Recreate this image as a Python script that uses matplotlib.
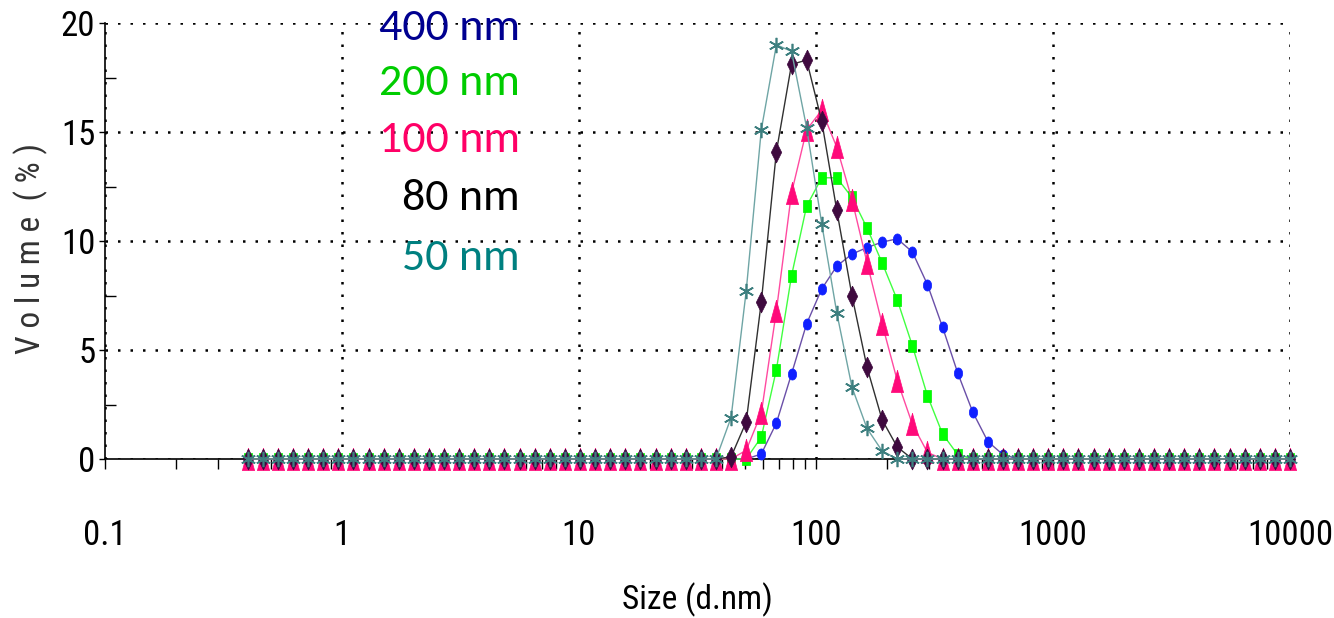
import numpy as np
import matplotlib
matplotlib.use("Agg")
import matplotlib.pyplot as plt
from matplotlib import font_manager
from matplotlib.ticker import LogLocator, FixedLocator, NullFormatter, FixedFormatter

# ---------------- data ----------------
sizes_nm = [0.4, 0.4632, 0.5365, 0.6213, 0.7195, 0.8332, 0.9649, 1.117, 1.294, 1.499,
            1.736, 2.010, 2.328, 2.696, 3.122, 3.615, 4.187, 4.849, 5.615, 6.503,
            7.531, 8.721, 10.10, 11.70, 13.54, 15.69, 18.17, 21.04, 24.36, 28.21,
            32.67, 37.84, 43.82, 50.75, 58.77, 68.06, 78.82, 91.28, 105.7, 122.4,
            141.8, 164.2, 190.1, 220.2, 255.0, 295.3, 342.0, 396.1, 458.7, 531.2,
            615.1, 712.4, 825.0, 955.4, 1106, 1281, 1484, 1718, 1990, 2305,
            2669, 3091, 3580, 4145, 4801, 5560, 6439, 7456, 8635, 10000]

vol_400 = [0] * 34 + [0.23, 1.65, 3.9, 6.2, 7.8, 8.85, 9.4, 9.7, 9.95, 10.1,
                      9.5, 8.0, 6.05, 3.95, 2.15, 0.8, 0.2] + [0] * 19
vol_200 = [0] * 34 + [1.0, 4.1, 8.4, 11.6, 12.9, 12.9, 12.0, 10.6, 9.0, 7.3,
                      5.2, 2.9, 1.15, 0.2] + [0] * 22
vol_100 = [0] * 33 + [0.4, 2.1, 6.8, 12.2, 15.1, 16.0, 14.3, 11.9, 9.0, 6.2,
                      3.6, 1.6, 0.3] + [0] * 24
vol_80 = [0] * 32 + [0.1, 1.7, 7.2, 14.1, 18.1, 18.3, 15.5, 11.4, 7.5, 4.2,
                     1.8, 0.55] + [0] * 26
vol_50 = [0] * 32 + [1.9, 7.7, 15.1, 19.0, 18.7, 15.2, 10.8, 6.7, 3.3, 1.4,
                     0.37] + [0] * 27

legend_labels = ["400 nm", "200 nm", "100 nm", "80 nm", "50 nm"]
x_tick_vals = [0.1, 1, 10, 100, 1000, 10000]
x_tick_labels = ["0.1", "1", "10", "100", "1000", "10000"]
y_tick_vals = [0, 5, 10, 15, 20]

# ---------------- fonts ----------------
available = {f.name for f in font_manager.fontManager.ttflist}
def pick(cands):
    for c in cands:
        if c in available:
            return c
    return "DejaVu Sans"

narrow = pick(["Liberation Sans Narrow", "Arial Narrow", "Roboto Condensed", "DejaVu Sans Condensed", "Liberation Sans"])
legend_font = pick(["Carlito", "Lato", "Open Sans", "DejaVu Sans"])

# ---------------- figure ----------------
fig = plt.figure(figsize=(13.34, 6.18), dpi=100)
ax = fig.add_axes([105 / 1334, 1 - 459 / 618, (1290 - 105) / 1334, (459 - 23) / 618])
ax.set_xscale("log")
ax.set_xlim(0.1, 10000)
ax.set_ylim(0, 20)

# marker shapes
t = np.linspace(0, 2 * np.pi, 40)
ellipse = list(zip(0.75 * np.cos(t), np.sin(t)))
tall_rect = [(-0.6, -1), (0.6, -1), (0.6, 1), (-0.6, 1), (-0.6, -1)]
tall_tri = [(0, 1), (0.55, -1), (-0.55, -1), (0, 1)]
thin_diamond = [(0, 1), (0.5, 0), (0, -1), (-0.5, 0), (0, 1)]

series = [
    (vol_400, "#6a4fa8", dict(marker=ellipse, ms=8, mfc="#1020ff", mec="#1020ff", mew=0.5)),
    (vol_200, "#40ff40", dict(marker=tall_rect, ms=8.5, mfc="#00ff00", mec="#00ee00", mew=0.5)),
    (vol_100, "#ff4aa0", dict(marker=tall_tri, ms=16, mfc="#ff0a7a", mec="#ff0a7a", mew=0.5)),
    (vol_80, "#303030", dict(marker=thin_diamond, ms=15, mfc="#3f0a3f", mec="#3f0a3f", mew=0.5)),
    (vol_50, "#6fa5a5", dict(marker=(6, 2, 0), ms=11, mfc="#3d7f7f", mec="#3d7f7f", mew=1.2)),
]
for vals, lc, mk in series:
    ax.plot(sizes_nm, vals, color=lc, lw=1.0, clip_on=False, zorder=3, **mk)

# grid: dotted
ax.grid(True, which="major", axis="both", color="black", linestyle=(0, (1, 4)), lw=1.8)
ax.set_axisbelow(True)
for s in ["top", "right"]:
    ax.spines[s].set_visible(False)
for s in ["left", "bottom"]:
    ax.spines[s].set_linewidth(1.2)
    ax.spines[s].set_zorder(2)

ax.xaxis.set_major_locator(FixedLocator(x_tick_vals))
ax.xaxis.set_major_formatter(FixedFormatter(x_tick_labels))
ax.xaxis.set_minor_locator(LogLocator(base=10, subs=np.arange(2, 10)))
ax.xaxis.set_minor_formatter(NullFormatter())
ax.yaxis.set_major_locator(FixedLocator(y_tick_vals))
ax.yaxis.set_minor_locator(FixedLocator([2.5, 7.5, 12.5, 17.5]))

ax.tick_params(axis="x", which="both", direction="out", length=7, width=1, pad=36,
               labelsize=25)
ax.tick_params(axis="y", which="major", direction="out", length=4, width=1, pad=3,
               labelsize=25)
ax.tick_params(axis="y", which="minor", direction="in", length=8, width=1)
for lab in ax.get_xticklabels() + ax.get_yticklabels():
    lab.set_fontfamily(narrow)

ax.set_xlabel("Size (d.nm)", fontsize=24, family=narrow, labelpad=22)
fig.text(31 / 1334, 1 - 248 / 618, "V o l u m e  ( % )", rotation=90, fontsize=24,
         family=narrow, color="#333333", ha="center", va="center")

leg_colors = ["#000090", "#00cc00", "#ff0066", "#000000", "#008080"]
leg_y = [28, 83, 140, 198, 258]
for lab, c, yy in zip(legend_labels, leg_colors, leg_y):
    fig.text(520 / 1334, 1 - yy / 618, lab, color=c, fontsize=33, family=legend_font,
             ha="right", va="center")

fig.savefig("out.png", dpi=100)
